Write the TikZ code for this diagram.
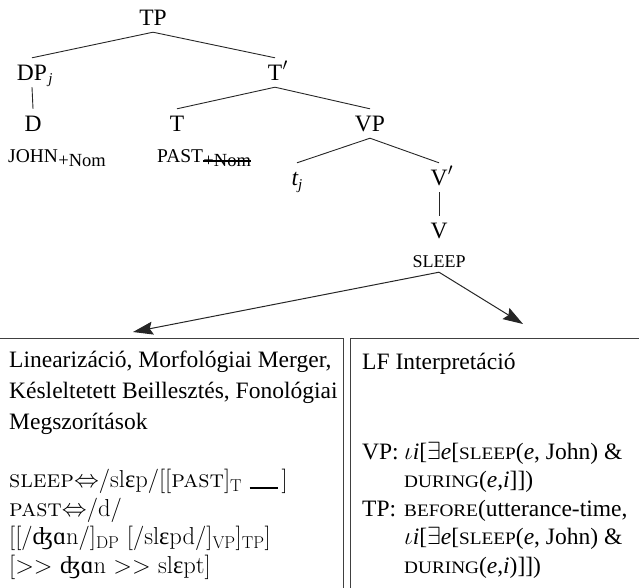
\documentclass[tikz,border=0pt]{standalone}
\usepackage{fontspec}
\usepackage{graphicx}
\newfontfamily\minion{Liberation Serif}
\usetikzlibrary{arrows.meta}
\newcommand\bsz{\fontsize{23.5}{28}\selectfont}
\newcommand\bsc[1]{\scalebox{1.1}[1]{\fontsize{17.5}{18}\selectfont #1}}
\newcommand\ipa[1]{{\minion #1}}
\tikzset{
  tr/.style={font=\minion\bsz, inner xsep=0pt, inner ysep=7pt, text height=15pt, text depth=0pt, anchor=base},
  trsub/.style={font=\minion\fontsize{15}{16}\selectfont\itshape, inner sep=0pt, anchor=base west},
  trprime/.style={font=\minion\bsz, inner sep=0pt, anchor=base west},
  sleepn/.style={font=\minion\fontsize{18}{20}\selectfont, inner xsep=0pt, inner ysep=5pt, text height=12pt, text depth=0pt, anchor=base},
  lex/.style={font=\minion\fontsize{19.5}{20}\selectfont, inner sep=0pt, anchor=base west},
  lexsub/.style={font=\minion\fontsize{18.5}{19}\selectfont, inner sep=0pt, anchor=base west},
  edge/.style={line width=0.9pt, draw=black!85},
  arr/.style={line width=1pt, draw=black!85, -{Stealth[length=20pt,width=13pt,inset=3pt]}},
  bx/.style={draw=black!75, line width=1.2pt, anchor=north west, inner sep=0pt},
  txt/.style={font=\minion\bsz, inner sep=0pt, anchor=base west},
  lm/.style={font=\rmfamily\fontsize{24.5}{26}\selectfont, inner sep=0pt, anchor=base west},
}
\begin{document}
\begin{tikzpicture}[x=1pt,y=-1pt]
\useasboundingbox (0,0) rectangle (639,587);
% tree
\node[tr] (TP) at (153,25) {TP};
\node[tr] (DP) at (32,80) {DP};
\node[trsub] (DPj) at ([xshift=1pt,yshift=-3pt]DP.base east) {j};
\node[tr] (Tb) at (275,80) {T};
\node[trprime] (Tbp) at (Tb.base east) {$'$};
\node[tr] (D) at (33,131) {D};
\node[tr] (T) at (177,131) {T};
\node[tr] (VP) at (370,131) {VP};
\node[tr] (t) at (297,185) {\itshape t\raisebox{-4pt}{\fontsize{15}{15}\selectfont j}};
\node[tr] (Vb) at (439,185) {V};
\node[trprime] (Vbp) at (Vb.base east) {$'$};
\node[tr] (V) at (439,238) {V};
\node[sleepn] (SLEEP) at (439,267) {SLEEP};
\node[lex] (john) at (8,162) {JOHN};
\node[lexsub] (johnnom) at ([yshift=-4pt]john.base east) {+Nom};
\node[lex] (past) at (157,162) {PAST};
\node[lexsub] (pastnom) at ([yshift=-4pt]past.base east) {+Nom};
\draw[line width=2pt] ([yshift=5pt]pastnom.base west) -- ([yshift=5pt]pastnom.base east);
\draw[edge] (TP.south) -- (DP.north);
\draw[edge] (TP.south) -- (Tb.north);
\draw[edge] (DP.south) -- (D.north);
\draw[edge] (Tb.south) -- (T.north);
\draw[edge] (Tb.south) -- (VP.north);
\draw[edge] (VP.south) -- (t.north);
\draw[edge] (VP.south) -- (Vb.north);
\draw[edge] (Vb.south) -- (V.north);
% boxes
\begin{scope}
\clip (0,0) rectangle (639,587);
\node[bx, minimum width=350pt, minimum height=300pt] (pfbox) at (-7,338) {};
\node[bx, minimum width=300pt, minimum height=300pt] (lfbox) at (350,338) {};
\end{scope}
\coordinate (pfin) at (133,332);
\coordinate (lfin) at (523,324);
\draw[arr] (SLEEP.south) -- (pfin);
\draw[arr] (SLEEP.south) -- (lfin);
% left box text
\node[txt] (l1) at (9,367) {Linearizáció, Morfológiai Merger,};
\node[txt] (l2) at (9,398) {Késleltetett Beillesztés, Fonológiai};
\node[txt] (l3) at (9,429) {Megszorítások};
\node[lm] (l4) at (9,487.5) {\textsc{sleep}$\Leftrightarrow$/sl\ipa{ɛ}p/[[\textsc{past}]$_{\mathrm{T}}$ \rule[-1pt]{28pt}{1.2pt}\,]};
\node[lm] (l5) at (9,516) {\textsc{past}$\Leftrightarrow$/d/};
\node[lm] (l6) at (9,544.5) {[[/\ipa{ʤɑ}n/]$_{\mathrm{DP}}$ [/sl\ipa{ɛ}pd/]$_{\mathrm{VP}}$]$_{\mathrm{TP}}$]};
\node[lm] (l7) at (9,573) {[>\kern0pt> \ipa{ʤɑ}n >\kern0pt> sl\ipa{ɛ}pt]};
% right box text
\node[txt] (r0) at (362,369) {LF Interpretáció};
\node[txt] (r1a) at (362,459) {VP:};
\node[txt] (r1) at (404,459) {$\iota$\textit{i}[$\exists$\textit{e}[\bsc{SLEEP}(\textit{e}, John) \&};
\node[txt] (r2) at (404,487.5) {\bsc{DURING}(\textit{e},\textit{i}]])};
\node[txt] (r3a) at (362,516) {TP:};
\node[txt] (r3) at (404,516) {\bsc{BEFORE}(utterance-time,};
\node[txt] (r4) at (404,544.5) {$\iota$\textit{i}[$\exists$\textit{e}[\bsc{SLEEP}(\textit{e}, John) \&};
\node[txt] (r5) at (404,573) {\bsc{DURING}(\textit{e},\textit{i})]])};
\end{tikzpicture}
\end{document}
